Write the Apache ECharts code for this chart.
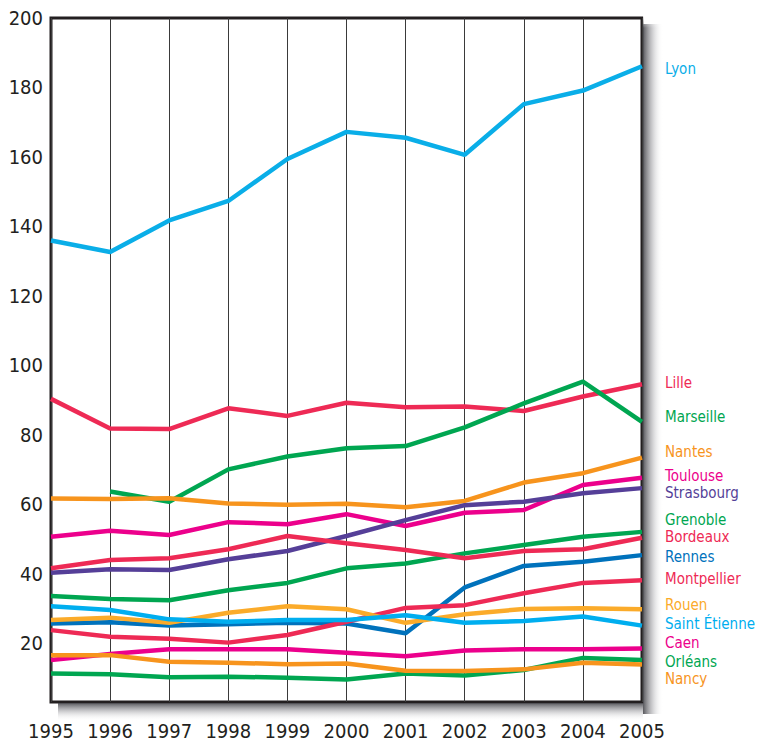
<!DOCTYPE html>
<html>
<head>
<meta charset="utf-8">
<script src="https://cdn.jsdelivr.net/npm/echarts@6/dist/echarts.min.js"></script>
<style>
html,body{margin:0;padding:0;background:#fff;}
#chart{width:758px;height:744px;}
</style>
</head>
<body>
<div id="chart"></div>
<script>
// ---- data ----
const years = ['1995','1996','1997','1998','1999','2000','2001','2002','2003','2004','2005'];
const yTicks = [20, 40, 60, 80, 100, 120, 140, 160, 180, 200];

const lyon         = [135.9, 132.6, 141.7, 147.3, 159.4, 167.2, 165.5, 160.6, 175.2, 179.1, 186.1];
const lille        = [90.3, 81.8, 81.6, 87.6, 85.4, 89.2, 87.9, 88.1, 86.8, 91.0, 94.5];
const marseille    = [null, 63.6, 60.7, 70.0, 73.7, 76.1, 76.7, 82.1, 89.0, 95.3, 83.7];
const nantes       = [61.6, 61.5, 61.7, 60.2, 59.8, 60.1, 59.1, 60.9, 66.2, 68.9, 73.4];
const toulouse     = [50.6, 52.3, 51.1, 54.8, 54.2, 57.1, 53.7, 57.5, 58.3, 65.5, 67.6];
const strasbourg   = [40.2, 41.2, 41.0, 44.1, 46.5, 50.8, 55.4, 59.7, 60.7, 63.1, 64.6];
const grenoble     = [33.5, 32.7, 32.3, 35.2, 37.3, 41.5, 42.9, 45.8, 48.2, 50.6, 52.0];
const bordeaux     = [41.5, 43.9, 44.4, 47.0, 50.8, 48.7, 46.8, 44.4, 46.5, 47.0, 50.3];
const rennes       = [25.6, 26.0, 25.0, 25.4, 25.8, 25.6, 22.8, 36.0, 42.2, 43.4, 45.3];
const montpellier  = [23.7, 21.8, 21.2, 20.1, 22.3, 26.1, 30.1, 30.9, 34.3, 37.3, 38.1];
const rouen        = [26.6, 27.3, 25.8, 28.7, 30.6, 29.7, 25.8, 28.3, 29.8, 30.0, 29.7];
const saintEtienne = [30.6, 29.5, 26.8, 26.1, 26.6, 26.6, 28.0, 25.8, 26.3, 27.6, 25.0];
const caen         = [15.1, 16.8, 18.2, 18.2, 18.2, 17.2, 16.2, 17.8, 18.2, 18.2, 18.4];
const orleans      = [11.2, 11.0, 10.1, 10.3, 10.0, 9.5, 11.2, 10.6, 12.2, 15.7, 15.1];
const nancy        = [16.5, 16.5, 14.6, 14.3, 13.9, 14.1, 12.0, 11.9, 12.4, 14.3, 13.8];

const cityNames = ['Lyon','Lille','Marseille','Nantes','Toulouse','Strasbourg','Grenoble','Bordeaux','Rennes','Montpellier','Rouen','Saint Étienne','Caen','Orléans','Nancy'];
const cityValues = [lyon, lille, marseille, nantes, toulouse, strasbourg, grenoble, bordeaux, rennes, montpellier, rouen, saintEtienne, caen, orleans, nancy];

// ---- styles / layout ----
const cityColors = ['#0aaee8','#ee2a55','#00a651','#f7941d','#ec008c','#553f98','#00a651','#ee2a55','#0072bc','#ee2a55','#fbab2a','#00aeef','#ec008c','#00a651','#f7941d'];
const labelY = [69, 383, 417, 452, 476, 493, 520, 537, 557, 579, 605, 624, 643, 662, 679];
const labelX = 665;
const FONT_AXIS = '"DejaVu Sans Condensed", "Liberation Sans Narrow", sans-serif';

const chart = echarts.init(document.getElementById('chart'), null, {renderer: 'svg'});

const series = cityNames.map((name, i) => ({
  name: name,
  type: 'line',
  data: cityValues[i],
  symbol: 'none',
  connectNulls: false,
  lineStyle: {width: 4.5, color: cityColors[i]},
  itemStyle: {color: cityColors[i]},
  z: 3
}));

const labelGraphics = cityNames.map((name, i) => ({
  type: 'text',
  left: labelX,
  top: labelY[i] - 8,
  z: 10,
  style: {
    text: name,
    fill: cityColors[i],
    font: '15px "DejaVu Sans Condensed", sans-serif',
    lineHeight: 15
  }
}));

// drop shadow bands around the plot frame (decoration)
const shadowGraphics = [
  {
    type: 'rect', z: 0, silent: true,
    shape: {x: 643, y: 24, width: 20, height: 690},
    style: {fill: new echarts.graphic.LinearGradient(0, 0, 1, 0, [
      {offset: 0, color: 'rgba(70,70,75,0.9)'},
      {offset: 0.45, color: 'rgba(150,150,155,0.5)'},
      {offset: 1, color: 'rgba(255,255,255,0)'}
    ])}
  },
  {
    type: 'rect', z: 0, silent: true,
    shape: {x: 58, y: 703, width: 585, height: 18},
    style: {fill: new echarts.graphic.LinearGradient(0, 0, 0, 1, [
      {offset: 0, color: 'rgba(70,70,75,0.9)'},
      {offset: 0.45, color: 'rgba(150,150,155,0.5)'},
      {offset: 1, color: 'rgba(255,255,255,0)'}
    ])}
  },
  {
    type: 'rect', z: 0, silent: true,
    shape: {x: 643, y: 14, width: 20, height: 14},
    style: {fill: new echarts.graphic.LinearGradient(0, 1, 0, 0, [
      {offset: 0, color: 'rgba(255,255,255,0)'},
      {offset: 1, color: 'rgba(255,255,255,1)'}
    ])}
  }
];

chart.setOption({
  animation: false,
  backgroundColor: '#ffffff',
  grid: {
    left: 51, right: 116, top: 18, bottom: 42,
    show: true,
    backgroundColor: '#ffffff',
    borderColor: '#231f20',
    borderWidth: 3
  },
  xAxis: {
    type: 'category',
    data: years,
    boundaryGap: false,
    axisLine: {show: false},
    axisTick: {show: false},
    axisLabel: {
      interval: 0,
      margin: 19,
      color: '#231f20',
      fontSize: 20,
      fontFamily: FONT_AXIS
    },
    splitLine: {show: true, interval: 0, lineStyle: {color: '#3a3a3a', width: 1}}
  },
  yAxis: {
    type: 'value',
    min: 3,
    max: 200,
    axisLine: {show: false},
    axisTick: {show: false},
    splitLine: {show: false},
    axisLabel: {
      customValues: yTicks,
      margin: 8,
      color: '#231f20',
      fontSize: 20,
      fontFamily: FONT_AXIS
    }
  },
  series: series,
  graphic: shadowGraphics.concat(labelGraphics)
});
</script>
</body>
</html>
